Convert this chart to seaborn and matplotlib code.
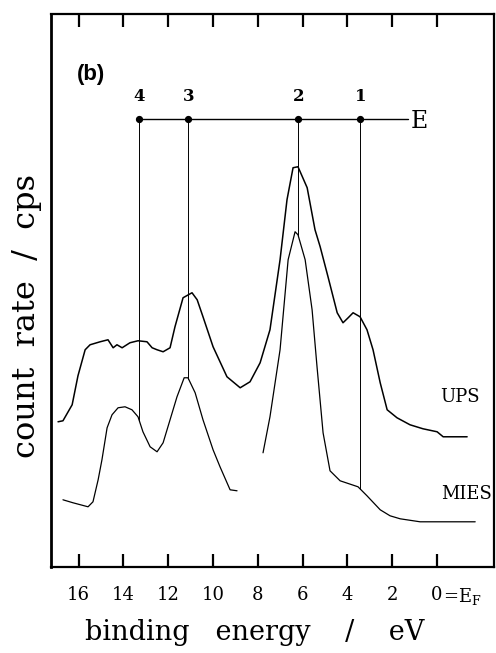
import numpy as np
import pandas as pd
import matplotlib
matplotlib.use("Agg")
import matplotlib.pyplot as plt
import seaborn as sns

# UPS spectrum (binding energy in eV, count rate in arbitrary units)
ups_energy = [16.92, 16.70, 16.29, 16.03, 15.71, 15.49, 15.04, 14.69, 14.46, 14.29,
              14.06, 13.71, 13.35, 12.95, 12.72, 12.50, 12.23, 11.92, 11.70, 11.34,
              10.94, 10.71, 10.45, 10.00, 9.38, 8.79, 8.35, 7.90, 7.46, 7.01,
              6.70, 6.43, 6.21, 5.80, 5.45, 5.22, 4.87, 4.46, 4.20, 3.97,
              3.75, 3.44, 3.13, 2.86, 2.54, 2.23, 1.79, 1.21, 0.63, 0.00,
              -0.27, -1.34]
ups_count = [145, 146, 162, 191, 217, 222, 225, 227, 219, 222,
             219, 224, 226, 225, 219, 217, 215, 219, 240, 269,
             274, 267, 250, 220, 190, 179, 185, 204, 237, 307,
             367, 399, 400, 379, 337, 320, 290, 254, 244, 249,
             254, 250, 237, 217, 184, 157, 149, 142, 138, 135,
             130, 130]

# MIES spectrum, recorded in two separate ranges
mies_energy_hi = [16.70, 16.25, 15.58, 15.36, 15.13, 14.96, 14.73, 14.51, 14.24, 13.93,
                  13.62, 13.35, 13.13, 12.81, 12.50, 12.23, 11.92, 11.61, 11.29, 11.12,
                  10.80, 10.45, 10.00, 9.69, 9.24, 8.93]
mies_count_hi = [67, 64, 60, 65, 87, 107, 139, 152, 159, 160,
                 157, 150, 135, 120, 115, 124, 147, 170, 189, 189,
                 174, 147, 117, 100, 77, 76]
mies_energy_lo = [7.77, 7.46, 7.01, 6.65, 6.34, 6.21, 5.89, 5.58, 5.36, 5.09,
                  4.78, 4.33, 3.53, 3.13, 2.54, 2.10, 1.65, 0.76, -1.70]
mies_count_lo = [114, 150, 217, 307, 335, 332, 307, 257, 200, 134,
                 96, 86, 80, 71, 57, 51, 48, 45, 45]

# Energy-level scheme E with its numbered levels
level_labels = ["4", "3", "2", "1"]
level_energy = [13.30, 11.10, 6.20, 3.43]
level_height = 448
scheme_end = 1.29

x_ticks = [16, 14, 12, 10, 8, 6, 4, 2, 0]
x_tick_labels = ["16", "14", "12", "10", "8", "6", "4", "2", "0"]

y_limits = (0, 553)
tick_len = 13

sns.set_style("ticks", {"axes.edgecolor": "black", "text.color": "black",
                        "axes.labelcolor": "black", "xtick.color": "black",
                        "ytick.color": "black"})
plt.rcParams.update({
    "font.family": ["DejaVu Serif"],
    "mathtext.fontset": "dejavuserif",
})

fig = plt.figure(figsize=(4.96, 6.53), dpi=100)
ax = fig.add_axes([0.103, 0.132, 0.893, 0.847])

ups = pd.DataFrame({"energy": ups_energy, "count": ups_count})
mies_hi = pd.DataFrame({"energy": mies_energy_hi, "count": mies_count_hi})
mies_lo = pd.DataFrame({"energy": mies_energy_lo, "count": mies_count_lo})

sns.lineplot(data=ups, x="energy", y="count", sort=False, estimator=None,
             color="black", lw=1.1, ax=ax)
sns.lineplot(data=mies_hi, x="energy", y="count", sort=False, estimator=None,
             color="black", lw=0.9, ax=ax)
sns.lineplot(data=mies_lo, x="energy", y="count", sort=False, estimator=None,
             color="black", lw=0.9, ax=ax)

# drop lines from each level down to the MIES curve
mies_all_e = np.array(mies_energy_lo[::-1] + mies_energy_hi[::-1])
mies_all_c = np.array(mies_count_lo[::-1] + mies_count_hi[::-1])
for e in level_energy:
    bottom = np.interp(e, mies_all_e, mies_all_c)
    ax.plot([e, e], [level_height, bottom], color="black", lw=0.7)

ax.plot([level_energy[0], scheme_end], [level_height, level_height],
        color="black", lw=1.0)
ax.plot(level_energy, [level_height] * len(level_energy), "o", color="black",
        ms=4.2)
for lab, e in zip(level_labels, level_energy):
    ax.text(e, level_height + 14, lab, ha="center", va="bottom",
            fontsize=12, fontweight="bold")
ax.text(scheme_end - 0.1, level_height - 3, "E", ha="left", va="center",
        fontsize=17)

ax.text(-0.15, 170, "UPS", ha="left", va="center", fontsize=13)
ax.text(-0.20, 73, "MIES", ha="left", va="center", fontsize=13)
ax.text(0.058, 0.89, "(b)", transform=ax.transAxes, ha="left", va="center",
        fontsize=16, fontweight="bold", family=["Liberation Sans"])

# inward tick marks along the bottom and top edges
for t in x_ticks:
    ax.plot([t, t], [y_limits[0], y_limits[0] + tick_len], color="black",
            lw=1.6, solid_capstyle="butt")
    ax.plot([t, t], [y_limits[1] - tick_len, y_limits[1]], color="black",
            lw=1.6, solid_capstyle="butt")

ax.set_xlim(17.23, -2.54)
ax.set_ylim(*y_limits)
ax.set_xticks(x_ticks)
ax.set_xticklabels(x_tick_labels, fontsize=13)
ax.set_yticks([])
ax.tick_params(axis="x", which="major", direction="in", length=0, width=0,
               top=False, bottom=True, labelbottom=True, pad=14)

ax.annotate("=E$_\\mathrm{F}$", xy=(0, 0), xycoords=("data", "axes fraction"),
            xytext=(4.5, -25.5), textcoords="offset points", ha="left",
            va="baseline", fontsize=13)

for side, w in [("left", 2.0), ("bottom", 1.6), ("top", 1.6), ("right", 1.6)]:
    ax.spines[side].set_visible(True)
    ax.spines[side].set_linewidth(w)
    ax.spines[side].set_color("black")

ax.set_xlabel("binding   energy    /    eV", fontsize=19.5)
ax.xaxis.set_label_coords(0.46, -0.094)
ax.set_ylabel("count  rate  /  cps", fontsize=23)
ax.yaxis.set_label_coords(-0.02, 0.454)

fig.savefig("out.png", dpi=100)
